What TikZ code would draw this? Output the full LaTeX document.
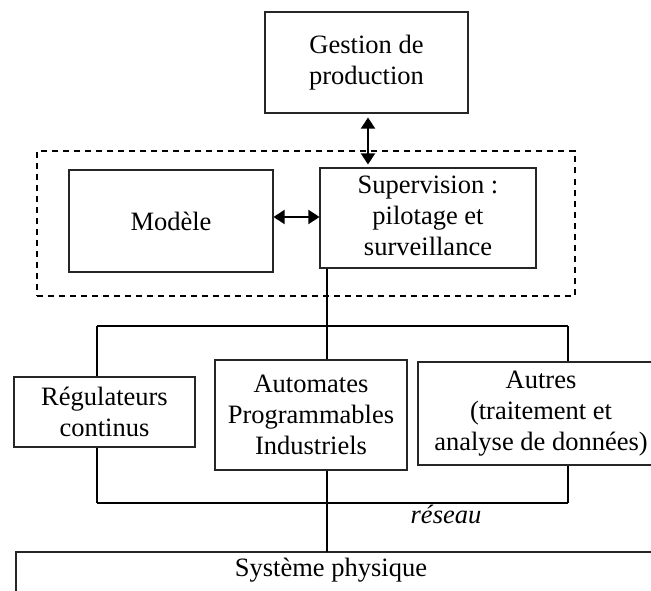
\documentclass[tikz,border=0pt]{standalone}
\usepackage{fontspec}
\setmainfont{Liberation Serif}
\usetikzlibrary{arrows.meta}
\begin{document}
\begin{tikzpicture}[x=1pt,y=-1pt,
  box/.style={draw=black!85, line width=1.1pt, align=center, inner sep=0pt, font=\fontsize{26.5}{31}\selectfont},
  group/.style={draw=black, line width=2pt, dash pattern=on 6pt off 5pt, inner sep=0pt},
  bus/.style={line width=2.6pt},
  link/.style={line width=2.4pt},
  dbl/.style={line width=2pt, {Triangle[length=11pt,width=14pt]}-{Triangle[length=11pt,width=14pt]}},
  txt/.style={font=\fontsize{26.5}{31}\selectfont, inner sep=0pt}]
\useasboundingbox (0,0) rectangle (651,591);
\clip (0,0) rectangle (651,591);

% nodes
\node[box, minimum width=203pt, minimum height=101pt] (gest) at (366.5,62.5) {Gestion de\\production};
\node[group, minimum width=537.5pt, minimum height=145pt] (grp) at (306,223.5) {};
\node[box, minimum width=204pt, minimum height=102pt] (mod) at (171,221) {Modèle};
\node[box, minimum width=216pt, minimum height=100pt] (sup) at (428,218) {\raisebox{-3pt}{\begin{tabular}{@{}c@{}}Supervision :\\pilotage et\\surveillance\end{tabular}}};
\node[box, minimum width=181pt, minimum height=70pt] (reg) at (104.5,412) {Régulateurs\\continus};
\node[box, minimum width=192pt, minimum height=110pt] (api) at (311,415) {Automates\\Programmables\\Industriels};
\node[box, minimum width=246pt, minimum height=103pt] (aut) at (541,413.5) {Autres\\(traitement et\\analyse de données)};
\node[txt] (sys) at (331,570) {Système physique};
\node[txt, font=\fontsize{26.5}{31}\selectfont\itshape] (res) at (446,514) {réseau};

% coordinates of the network
\coordinate (uL) at (97,326);
\coordinate (uC) at (327,326);
\coordinate (uR) at (568,326);
\coordinate (lL) at (97,503);
\coordinate (lC) at (327,503);
\coordinate (lR) at (568,503);
\coordinate (systop) at (327,552);

% system box outline (cropped)
\draw[line width=1.1pt, draw=black!85] (16,620) -- (16,552) -- (720,552);

% arrows
\draw[dbl, shorten <=4pt, shorten >=3pt] (gest.south -| 368,0) -- (368,0 |- sup.north);
\draw[dbl] (mod.east |- 0,217) -- (sup.west |- 0,217);

% supervision to bus
\draw[link] (uC |- sup.south) -- (uC);

% buses
\draw[bus] (uL) -- (uR);
\draw[bus] (lL) -- (lR);

% drops
\draw[link] (uL) -- (uL |- reg.north);
\draw[link] (uC) -- (uC |- api.north);
\draw[link] (uR) -- (uR |- aut.north);
\draw[link] (uL |- reg.south) -- (lL);
\draw[link] (uC |- api.south) -- (lC);
\draw[link] (uR |- aut.south) -- (lR);
\draw[link] (lC) -- (systop);
\end{tikzpicture}
\end{document}
